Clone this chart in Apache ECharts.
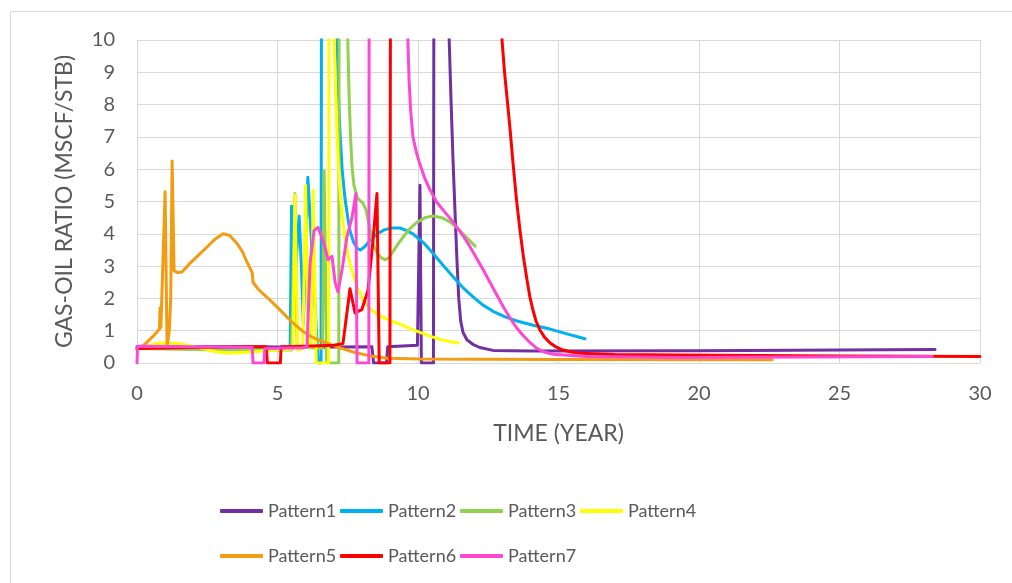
<!DOCTYPE html>
<html>
<head>
<meta charset="utf-8">
<script src="https://cdn.jsdelivr.net/npm/echarts@6/dist/echarts.min.js"></script>
<style>
html,body{margin:0;padding:0;background:#fff;}
#c{width:1012px;height:583px;}
</style>
</head>
<body>
<div id="c"></div>
<script>
// Category / tick info
const seriesNames = ['Pattern1','Pattern2','Pattern3','Pattern4','Pattern5','Pattern6','Pattern7'];
const xTicks = [0,5,10,15,20,25,30];
const yTicks = [0,1,2,3,4,5,6,7,8,9,10];

// Series values: [time (year), GOR (MSCF/STB)]; values above 10 are off-scale
const pattern1 = [[0,0.5],[2,0.5],[4,0.5],[6,0.49],[8.36,0.5],[8.42,0],[8.88,0],[8.92,0.5],[9.98,0.55],[10.03,0.55],[10.07,5.5],[10.12,0],[10.55,0],[10.6,40],[11.05,40],[11.11,10],[11.18,8.0],[11.25,6.2],[11.33,4.4],[11.39,3.1],[11.45,2.0],[11.52,1.3],[11.6,0.95],[11.74,0.72],[11.95,0.58],[12.2,0.48],[12.67,0.39],[14,0.37],[20,0.38],[25,0.4],[28.4,0.42]];
const pattern2 = [[0,0.5],[2,0.48],[4,0.45],[5.45,0.45],[5.5,4.85],[5.6,2.3],[5.77,4.55],[5.85,3.0],[5.92,1.2],[6.08,5.75],[6.45,0],[6.55,0],[6.6,40],[7.05,40],[7.12,10],[7.17,8.3],[7.22,7.2],[7.3,6.0],[7.4,5.1],[7.5,4.5],[7.58,4.1],[7.7,3.75],[7.83,3.55],[7.95,3.5],[8.1,3.6],[8.3,3.8],[8.54,4.0],[8.8,4.12],[9.05,4.18],[9.36,4.18],[9.6,4.1],[9.82,4.0],[10.2,3.72],[10.53,3.4],[10.9,3.02],[11.25,2.67],[11.6,2.33],[11.96,2.05],[12.3,1.8],[12.67,1.6],[13.1,1.43],[13.52,1.3],[14.1,1.17],[14.7,1.05],[15.3,0.9],[15.94,0.75]];
const pattern3 = [[0,0.45],[3,0.4],[5.5,0.4],[5.56,0.45],[5.62,5.25],[5.7,0.5],[6.6,0.45],[6.66,5.95],[6.75,0],[7.18,0],[7.22,40],[7.45,40],[7.5,10],[7.55,8.2],[7.6,7.0],[7.65,6.1],[7.72,5.5],[7.85,5.1],[8.04,4.95],[8.15,4.75],[8.25,4.3],[8.4,3.7],[8.55,3.4],[8.7,3.25],[8.83,3.2],[8.95,3.25],[9.11,3.45],[9.3,3.7],[9.47,3.9],[9.7,4.15],[9.96,4.35],[10.25,4.5],[10.53,4.55],[10.85,4.5],[11.14,4.37],[11.4,4.18],[11.6,4.0],[11.8,3.82],[12.03,3.62]];
const pattern4 = [[0,0.45],[0.8,0.62],[1.5,0.6],[2.1,0.5],[2.8,0.35],[3.3,0.3],[4.2,0.35],[4.8,0.4],[5.4,0.42],[5.55,0.45],[5.62,5.2],[5.72,0.4],[5.9,0.45],[6.0,5.5],[6.1,0.5],[6.2,0.5],[6.27,5.35],[6.38,0],[6.82,0],[6.86,40],[6.98,40],[7.02,10],[7.07,8.3],[7.12,7.0],[7.18,5.9],[7.25,5.0],[7.35,4.2],[7.45,3.6],[7.6,3.0],[7.83,2.35],[8.05,1.95],[8.29,1.68],[8.6,1.48],[9.0,1.32],[9.36,1.2],[9.7,1.07],[10.07,0.95],[10.4,0.84],[10.78,0.73],[11.1,0.67],[11.42,0.62]];
const pattern5 = [[0,0.4],[0.3,0.6],[0.6,0.85],[0.8,1.05],[0.82,1.7],[0.85,1.1],[0.9,1.15],[1.0,5.3],[1.07,0.5],[1.15,1.0],[1.2,2.0],[1.25,6.25],[1.32,2.85],[1.45,2.8],[1.6,2.82],[1.9,3.1],[2.2,3.35],[2.5,3.6],[2.8,3.85],[3.06,4.0],[3.3,3.95],[3.56,3.7],[3.75,3.45],[3.9,3.15],[4.1,2.8],[4.13,2.5],[4.3,2.3],[4.48,2.15],[4.73,1.95],[5.0,1.72],[5.44,1.33],[5.9,0.98],[6.2,0.82],[6.5,0.7],[7.12,0.5],[7.69,0.34],[8.29,0.22],[8.9,0.15],[10.07,0.12],[15,0.11],[22.6,0.1]];
const pattern6 = [[0,0.45],[2,0.48],[4,0.5],[4.6,0.5],[4.64,0],[5.1,0],[5.13,0.5],[6,0.52],[7,0.55],[7.33,0.6],[7.58,2.3],[7.76,1.55],[8.0,1.65],[8.22,2.25],[8.4,3.8],[8.54,5.25],[8.62,0],[9.0,0],[9.07,40],[12.95,40],[12.99,10],[13.08,9.0],[13.17,8.2],[13.28,7.2],[13.38,6.2],[13.5,5.1],[13.63,4.1],[13.75,3.3],[13.88,2.57],[13.98,2.05],[14.09,1.64],[14.2,1.3],[14.34,1.02],[14.5,0.8],[14.7,0.62],[14.9,0.5],[15.16,0.4],[15.45,0.34],[15.77,0.3],[17,0.26],[19.3,0.25],[25,0.22],[30,0.2]];
const pattern7 = [[0,0],[0.02,0.52],[2,0.5],[4.1,0.48],[4.13,0],[4.52,0],[4.55,0.45],[5.9,0.47],[6.05,0.5],[6.16,3.1],[6.3,4.1],[6.44,4.2],[6.62,3.8],[6.8,3.2],[6.94,3.3],[7.05,2.5],[7.15,2.2],[7.3,2.9],[7.47,3.9],[7.65,4.5],[7.79,5.25],[7.83,0],[8.25,0],[8.29,40],[9.6,40],[9.64,10],[9.68,8.8],[9.74,7.8],[9.82,7.0],[9.95,6.5],[10.07,6.15],[10.25,5.7],[10.43,5.36],[10.65,5.0],[10.89,4.74],[11.15,4.47],[11.39,4.2],[11.62,3.92],[11.85,3.6],[12.08,3.25],[12.31,2.9],[12.56,2.5],[12.81,2.1],[13.05,1.72],[13.27,1.4],[13.5,1.1],[13.74,0.85],[14.0,0.62],[14.23,0.45],[14.5,0.34],[14.8,0.27],[16,0.2],[19.3,0.17],[28.3,0.2]];

const allData = [pattern1,pattern2,pattern3,pattern4,pattern5,pattern6,pattern7];
const colors = ['#7030A0','#00B0F0','#92D050','#FFFF00','#F39C12','#FF0000','#FF47D6'];

const chart = echarts.init(document.getElementById('c'), null, {renderer:'canvas'});
const FONT = 'Lato';
// one legend block per item, laid out in two rows of four slots
const legends = seriesNames.map((n,i)=>({
  data:[n], orient:'horizontal', itemWidth:43, itemHeight:4, icon:'roundRect', padding:0,
  left: 220 + 120*(i%4), top: i<4 ? 502 : 547,
  textStyle:{fontFamily:FONT, fontSize:18, color:'#595959'}
}));
chart.setOption({
  animation:false,
  backgroundColor:'#fff',
  textStyle:{fontFamily:FONT},
  grid:{left:137, right:32, top:40, bottom:220, containLabel:false},
  graphic:[{type:'rect', shape:{x:10.5,y:11.5,width:1100,height:700}, style:{fill:'none', stroke:'#D9D9D9', lineWidth:1}, silent:true}],
  legend: legends,
  xAxis:{
    type:'value', min:xTicks[0], max:xTicks[xTicks.length-1], interval:5,
    name:'TIME (YEAR)', nameLocation:'middle', nameGap:59,
    nameTextStyle:{fontFamily:FONT, fontSize:23, color:'#595959'},
    axisLine:{show:true, lineStyle:{color:'#D9D9D9', width:1}},
    axisTick:{show:false},
    axisLabel:{fontFamily:FONT, fontSize:20, color:'#595959', margin:21},
    splitLine:{show:true, lineStyle:{color:'#D9D9D9', width:1}}
  },
  yAxis:{
    type:'value', min:yTicks[0], max:yTicks[yTicks.length-1], interval:1,
    name:'GAS-OIL RATIO (MSCF/STB)', nameLocation:'middle', nameGap:61, nameRotate:90,
    nameTextStyle:{fontFamily:FONT, fontSize:23, color:'#595959'},
    axisLine:{show:false}, axisTick:{show:false},
    axisLabel:{fontFamily:FONT, fontSize:20, color:'#595959', margin:22},
    splitLine:{show:true, lineStyle:{color:'#D9D9D9', width:1}}
  },
  series: seriesNames.map((n,i)=>({
    name:n, type:'line', data:allData[i], showSymbol:false, symbol:'none',
    clip:true, smooth:false,
    lineStyle:{color:colors[i], width:3, cap:'round', join:'round'},
    itemStyle:{color:colors[i]}
  }))
});
</script>
</body>
</html>
